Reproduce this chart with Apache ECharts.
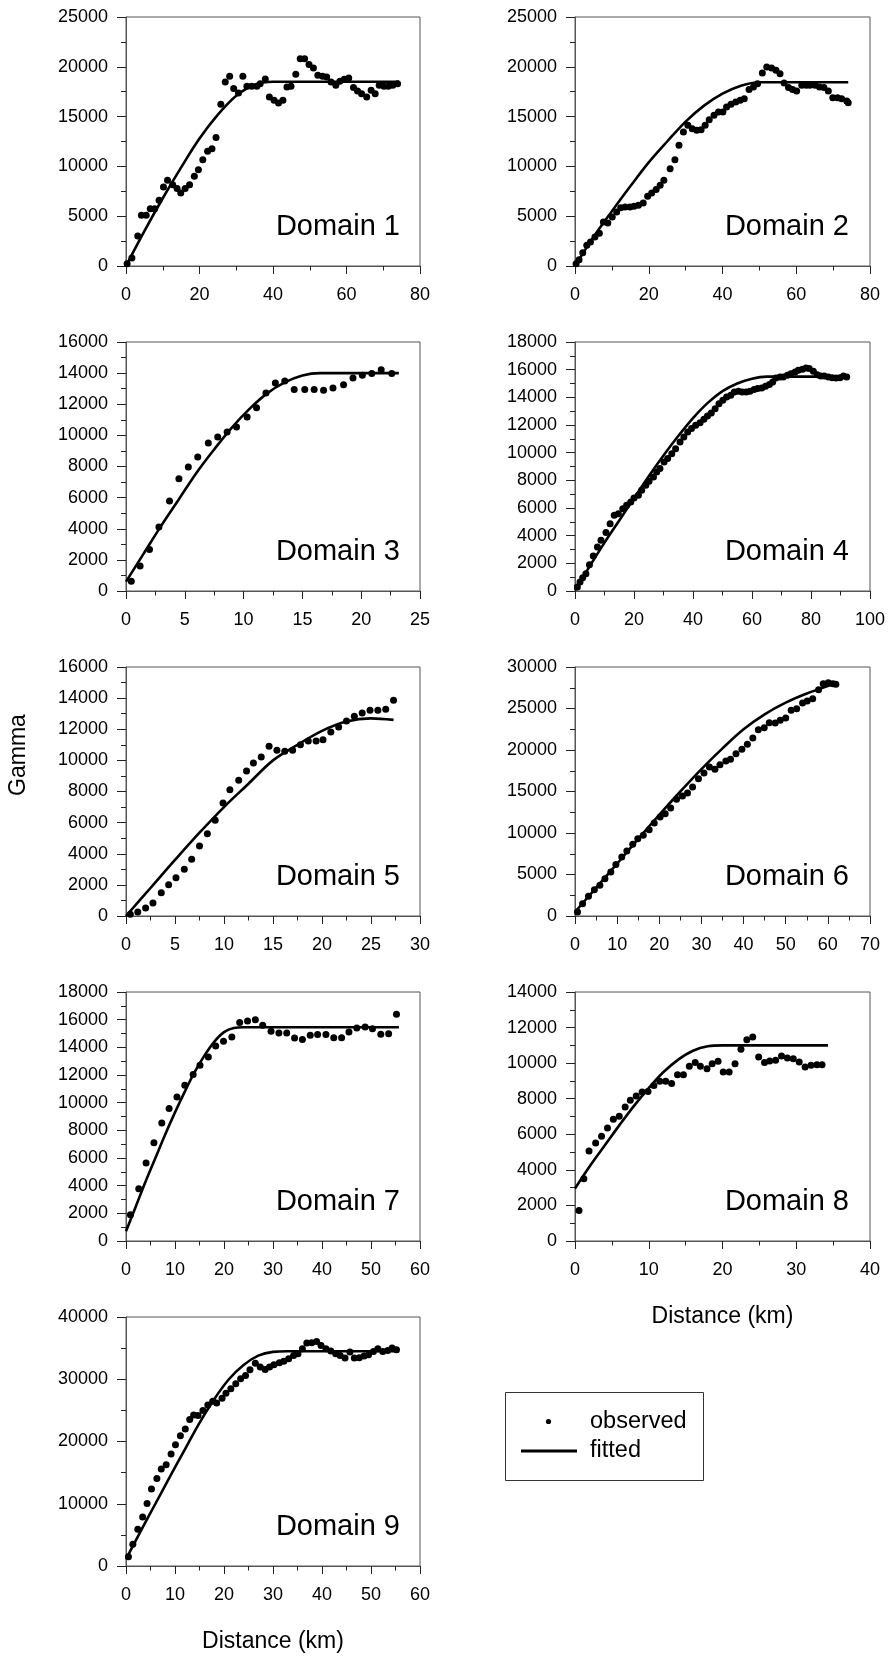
<!DOCTYPE html>
<html>
<head>
<meta charset="utf-8">
<title>Variograms by domain</title>
<script src="https://cdn.jsdelivr.net/npm/echarts@6/dist/echarts.min.js"></script>
<style>
html, body { margin: 0; padding: 0; background: #fff; }
#chart { width: 890px; height: 1656px; }
</style>
</head>
<body>
<div id="chart"></div>
<script>
// observed points, [distance km, gamma]
const obs1 = [[0.3,230],[1.6,800],[3.2,3000],[4.2,5090],[5.5,5090],[6.6,5750],[7.8,5750],[9.0,6600],[10.2,7930],[11.3,8600],[12.7,8170],[13.9,7770],[14.9,7330],[16.1,7770],[17.3,8170],[18.6,9000],[19.7,9670],[20.9,10680],[22.2,11510],[23.4,11780],[24.5,12890],[25.8,16230],[27.0,18480],[28.2,19040],[29.3,17810],[30.6,17370],[31.8,19040],[32.9,18040],[34.2,18040],[35.6,18040],[36.5,18310],[37.9,18780],[39.0,16970],[40.3,16630],[41.5,16370],[42.7,16630],[43.8,17970],[44.9,18040],[46.2,19240],[47.4,20820],[48.6,20820],[49.8,20220],[51.0,19880],[52.2,19140],[53.5,19040],[54.6,18980],[55.8,18480],[57.1,18140],[58.2,18540],[59.4,18740],[60.6,18880],[61.9,17910],[63.0,17570],[64.1,17300],[65.5,16970],[66.7,17640],[67.8,17300],[68.9,18140],[70.2,18040],[71.4,18040],[72.6,18140],[73.9,18310]];
const obs2 = [[0.3,230],[1.1,640],[2.1,1340],[3.2,2080],[4.2,2410],[5.4,2900],[6.6,3300],[7.7,4420],[8.9,4320],[10.1,4920],[11.3,5420],[12.4,5860],[13.6,5920],[14.9,5920],[16.0,5990],[17.2,6090],[18.5,6330],[19.7,7000],[20.8,7330],[22.0,7670],[23.1,8100],[24.1,8600],[25.8,9770],[27.1,10680],[28.2,12120],[29.4,13450],[30.6,14120],[31.8,13790],[33.0,13620],[34.2,13690],[35.3,14120],[36.4,14690],[37.7,15130],[38.9,15460],[40.1,15460],[41.1,15970],[42.3,16230],[43.6,16470],[44.8,16630],[45.9,16800],[47.2,17710],[48.4,17980],[49.5,18310],[50.8,19380],[52.0,19980],[53.3,19880],[54.5,19650],[55.6,19310],[56.7,18380],[57.9,17910],[59.0,17710],[60.1,17570],[61.5,18140],[62.7,18140],[63.7,18140],[65.1,18140],[66.3,17980],[67.5,17910],[68.7,17570],[69.9,16900],[71.2,16900],[72.3,16800],[73.7,16570],[74.1,16400]];
const obs3 = [[0.45,620],[1.2,1610],[2.0,2660],[2.8,4110],[3.7,5780],[4.5,7220],[5.3,7970],[6.1,8610],[7.0,9510],[7.8,9900],[8.6,10220],[9.4,10540],[10.3,11180],[11.1,11780],[11.9,12720],[12.7,13370],[13.5,13500],[14.3,12940],[15.2,12940],[16.0,12940],[16.8,12900],[17.6,13050],[18.5,13260],[19.3,13690],[20.1,13860],[20.9,13970],[21.7,14220],[22.6,13970]];
const obs4 = [[0.8,290],[1.7,650],[2.6,960],[3.7,1250],[4.9,1900],[6.2,2530],[7.6,3180],[8.8,3660],[10.5,4220],[11.9,4870],[13.3,5470],[14.7,5590],[16.2,5950],[17.5,6190],[18.9,6440],[20.0,6720],[21.5,6920],[22.6,7280],[24.0,7640],[25.1,7930],[26.6,8240],[27.7,8600],[28.8,8850],[30.2,9330],[31.4,9570],[32.8,9930],[34.1,10290],[35.6,10770],[36.9,11130],[38.2,11500],[39.5,11740],[40.9,11980],[42.4,12170],[43.7,12410],[44.9,12650],[46.2,12870],[47.5,13180],[48.8,13540],[50.1,13790],[51.4,14030],[52.8,14150],[54.0,14390],[55.4,14440],[56.7,14390],[58.0,14390],[59.3,14440],[60.7,14560],[61.9,14630],[63.3,14680],[64.6,14800],[65.9,14920],[67.0,15110],[68.1,15400],[69.5,15470],[70.6,15470],[72.0,15590],[73.2,15710],[74.6,15830],[75.7,15950],[77.1,16030],[78.3,16120],[79.4,16080],[80.8,15880],[82.1,15640],[83.3,15540],[84.5,15540],[85.9,15470],[87.2,15420],[88.5,15400],[89.8,15420],[91.0,15540],[92.1,15470]];
const obs5 = [[0.44,110],[1.2,260],[2.0,510],[2.75,840],[3.6,1500],[4.35,2010],[5.1,2460],[5.95,3000],[6.7,3640],[7.5,4500],[8.3,5290],[9.1,6150],[9.9,7260],[10.6,8120],[11.5,8720],[12.3,9320],[13.0,9830],[13.8,10220],[14.6,10900],[15.4,10650],[16.2,10580],[17.0,10650],[17.8,11010],[18.6,11250],[19.4,11250],[20.1,11330],[20.9,11820],[21.7,12150],[22.5,12530],[23.3,12830],[24.1,13050],[24.9,13220],[25.7,13220],[26.5,13280],[27.3,13860]];
const obs6 = [[0.6,480],[1.8,1490],[3.2,2370],[4.6,3170],[5.9,3700],[7.1,4500],[8.5,5300],[9.7,6190],[11.1,7110],[12.3,7830],[13.7,8630],[14.9,9320],[16.2,9720],[17.6,10400],[18.8,11200],[20.2,11930],[21.4,12330],[22.7,13010],[24.1,14060],[25.5,14460],[26.7,14820],[27.9,15540],[29.3,16550],[30.6,17230],[31.9,17950],[33.2,17670],[34.4,18230],[35.8,18680],[36.9,18880],[38.2,19560],[39.6,20080],[40.9,20680],[42.2,21450],[43.5,22450],[44.9,22690],[46.1,23290],[47.5,23250],[48.7,23570],[50.0,23860],[51.3,24780],[52.6,24980],[54.0,25660],[55.1,25900],[56.4,26180],[57.8,27270],[58.9,27990],[60.1,28110],[61.2,27990],[61.9,27910]];
const obs7 = [[0.9,1900],[2.6,3780],[4.1,5640],[5.7,7110],[7.3,8530],[8.8,9570],[10.4,10410],[12.0,11260],[13.7,12030],[15.1,12700],[16.8,13300],[18.3,14100],[19.9,14440],[21.6,14750],[23.2,15790],[24.8,15910],[26.4,16000],[27.9,15590],[29.6,15160],[31.2,15040],[32.8,15040],[34.4,14680],[36.0,14560],[37.6,14870],[39.1,14920],[40.8,14920],[42.4,14700],[44.0,14700],[45.5,15110],[47.1,15400],[48.8,15470],[50.3,15350],[52.0,14940],[53.6,14990],[55.2,16390]];
const obs8 = [[0.54,1720],[1.2,3500],[1.9,5060],[2.8,5510],[3.6,5890],[4.4,6350],[5.2,6840],[6.0,7010],[6.8,7530],[7.5,7910],[8.3,8150],[9.1,8380],[9.9,8410],[10.7,8750],[11.5,8980],[12.3,8980],[13.1,8850],[13.9,9350],[14.7,9350],[15.5,9820],[16.3,10030],[17.0,9820],[17.9,9690],[18.6,9970],[19.4,10100],[20.1,9500],[20.9,9500],[21.7,9970],[22.5,10780],[23.3,11320],[24.1,11470],[24.9,10350],[25.7,10030],[26.4,10120],[27.2,10160],[28.0,10400],[28.8,10290],[29.6,10250],[30.4,10060],[31.2,9780],[32.0,9880],[32.8,9910],[33.5,9910]];
const obs9 = [[0.5,1500],[1.4,3490],[2.4,5910],[3.4,7890],[4.3,10040],[5.2,12350],[6.3,14070],[7.2,15570],[8.2,16270],[9.2,17990],[10.1,19490],[11.1,20940],[12.1,22010],[13.0,23520],[13.8,24270],[14.7,24160],[15.7,24970],[16.7,25880],[17.7,26470],[18.5,26200],[19.6,26950],[20.4,27760],[21.4,28460],[22.4,29260],[23.4,30070],[24.4,30600],[25.3,31520],[26.4,32590],[27.4,31950],[28.4,31570],[29.3,31950],[30.2,32320],[31.3,32640],[32.2,32910],[33.2,33290],[34.2,33830],[35.1,34090],[36.0,34900],[36.9,35810],[37.9,35870],[38.9,36080],[39.8,35440],[40.8,34900],[41.8,34520],[42.8,34090],[43.7,33830],[44.7,33400],[45.7,34360],[46.6,33400],[47.6,33450],[48.6,33720],[49.5,33930],[50.5,34470],[51.4,34900],[52.4,34470],[53.4,34630],[54.3,35010],[55.2,34740]];

// fitted model curves
const fit1 = [[0,0],[5,3500],[10,6800],[15,9900],[20,12800],[25,15200],[30,17100],[35,18200],[40,18500],[45,18500],[74.3,18500]];
const fit2 = [[0,0],[5,2900],[10,5500],[15,8000],[20,10400],[25,12500],[30,14500],[35,16100],[40,17300],[45,18100],[50,18450],[55,18450],[74.1,18450]];
const fit3 = [[0,600],[1.5,2400],[3,4200],[4.5,5900],[6,7600],[7.5,9100],[9,10500],[10.5,11700],[12,12700],[13.5,13400],[15,13850],[16.5,14000],[18,14000],[23.2,14000]];
const fit4 = [[0,50],[5,1800],[10,3500],[15,5100],[20,6700],[25,8300],[30,9800],[35,11200],[40,12500],[45,13600],[50,14450],[55,15000],[60,15350],[65,15500],[70,15500],[92.1,15500]];
const fit5 = [[0,0],[2.5,1800],[5,3600],[7.5,5350],[10,7000],[12.5,8500],[15,10000],[17.5,11000],[20,11900],[22.5,12500],[25,12700],[27.3,12600]];
const fit6 = [[0,480],[5,3400],[10,6300],[15,9300],[20,12200],[25,15000],[30,17700],[35,20200],[40,22500],[45,24300],[50,25700],[55,26800],[60,27700],[62,28000]];
const fit7 = [[0,700],[2,2500],[4,4300],[6,6000],[8,7700],[10,9300],[12,10800],[14,12200],[16,13400],[18,14400],[20,15100],[22,15400],[24,15450],[30,15450],[55.7,15450]];
const fit8 = [[0,2950],[2,4200],[4,5350],[6,6500],[8,7600],[10,8600],[12,9500],[14,10200],[16,10700],[18,10950],[20,11000],[22,11000],[34.3,11000]];
const fit9 = [[0,1100],[3,5600],[6,10000],[9,14400],[12,18700],[15,23000],[18,26800],[21,30000],[24,32300],[27,33800],[30,34400],[33,34500],[55.7,34500]];

const domainNames = ['Domain 1', 'Domain 2', 'Domain 3', 'Domain 4', 'Domain 5', 'Domain 6', 'Domain 7', 'Domain 8', 'Domain 9'];
const xMax = [80, 80, 25, 100, 30, 70, 60, 40, 60];
const xStep = [20, 20, 5, 20, 5, 10, 10, 10, 10];
const yMax = [25000, 25000, 16000, 18000, 16000, 30000, 18000, 14000, 40000];
const yStep = [5000, 5000, 2000, 2000, 2000, 5000, 2000, 2000, 10000];

const observed = [obs1, obs2, obs3, obs4, obs5, obs6, obs7, obs8, obs9];
const fitted = [fit1, fit2, fit3, fit4, fit5, fit6, fit7, fit8, fit9];

const FONT = '"Liberation Sans", Arial, sans-serif';
const colLeft = [126, 575];
const colWidth = [294, 295];
const rowTop = 17, rowGap = 325, plotHeight = 249;

const chart = echarts.init(document.getElementById('chart'));

const grids = [], xAxes = [], yAxes = [], series = [], graphics = [];

domainNames.forEach((name, i) => {
    const col = i % 2;
    const row = Math.floor(i / 2);
    const left = colLeft[col];
    const top = rowTop + row * rowGap;

    grids.push({
        left: left, top: top, width: colWidth[col], height: plotHeight,
        show: true, borderColor: '#555', borderWidth: 1,
        backgroundColor: 'transparent',
        containLabel: false, outerBoundsMode: 'none'
    });

    // only the two bottom panels carry the distance title
    const bottomPanel = i >= 7;
    xAxes.push({
        type: 'value', gridIndex: i,
        min: 0, max: xMax[i], interval: xStep[i],
        name: bottomPanel ? 'Distance (km)' : '',
        nameLocation: 'middle', nameGap: 64,
        nameTextStyle: { fontFamily: FONT, fontSize: 23, color: '#000' },
        axisLine: { show: true, onZero: false, lineStyle: { color: '#555', width: 1 } },
        axisTick: { show: true, inside: false, length: 8, lineStyle: { color: '#222', width: 1 } },
        minorTick: { show: true, splitNumber: 2, length: 4.5, lineStyle: { color: '#222', width: 1 } },
        splitLine: { show: false },
        minorSplitLine: { show: false },
        axisLabel: {
            margin: 20, fontFamily: FONT, fontSize: 18, color: '#000',
            showMinLabel: true, showMaxLabel: true,
            formatter: v => String(v)
        }
    });
    yAxes.push({
        type: 'value', gridIndex: i,
        min: 0, max: yMax[i], interval: yStep[i],
        axisLine: { show: true, onZero: false, lineStyle: { color: '#555', width: 1 } },
        axisTick: { show: true, inside: false, length: 9, lineStyle: { color: '#222', width: 1 } },
        minorTick: { show: true, splitNumber: 2, length: 5, lineStyle: { color: '#222', width: 1 } },
        splitLine: { show: false },
        minorSplitLine: { show: false },
        axisLabel: {
            margin: 18, fontFamily: FONT, fontSize: 18, color: '#000',
            showMinLabel: true, showMaxLabel: true,
            formatter: v => String(v)
        }
    });

    series.push({
        name: 'observed', type: 'scatter',
        xAxisIndex: i, yAxisIndex: i,
        data: observed[i],
        symbol: 'circle', symbolSize: 7,
        itemStyle: { color: '#000', opacity: 1 },
        z: 2
    });
    series.push({
        name: 'fitted', type: 'line',
        xAxisIndex: i, yAxisIndex: i,
        data: fitted[i],
        showSymbol: false, symbol: 'none',
        smooth: 0.35,
        lineStyle: { color: '#000', width: 2.6 },
        z: 3
    });

    graphics.push({
        type: 'text',
        x: left + colWidth[col] - (col === 0 ? 20 : 21),
        y: top + plotHeight - 39,
        style: {
            text: name, align: 'right', verticalAlign: 'middle',
            fontFamily: FONT, fontSize: 29, fill: '#000'
        }
    });
});

// shared y title
graphics.push({
    type: 'text', x: 19, y: 755, rotation: Math.PI / 2,
    style: { text: 'Gamma', align: 'center', verticalAlign: 'middle', fontFamily: FONT, fontSize: 23, fill: '#000' }
});

// legend box, drawn by hand like the original
graphics.push({
    type: 'group',
    children: [
        { type: 'rect', shape: { x: 505.5, y: 1392.5, width: 198, height: 88 }, style: { fill: '#fff', stroke: '#333', lineWidth: 1 } },
        { type: 'circle', shape: { cx: 548.5, cy: 1421.5, r: 2.6 }, style: { fill: '#000' } },
        { type: 'line', shape: { x1: 521, y1: 1451, x2: 577, y2: 1451 }, style: { stroke: '#000', lineWidth: 3 } },
        { type: 'text', x: 590, y: 1421.5, style: { text: 'observed', align: 'left', verticalAlign: 'middle', fontFamily: FONT, fontSize: 23.5, fill: '#000' } },
        { type: 'text', x: 590, y: 1451, style: { text: 'fitted', align: 'left', verticalAlign: 'middle', fontFamily: FONT, fontSize: 23.5, fill: '#000' } }
    ]
});

chart.setOption({
    animation: false,
    backgroundColor: '#fff',
    grid: grids,
    xAxis: xAxes,
    yAxis: yAxes,
    series: series,
    graphic: graphics
});

window.addEventListener('resize', () => chart.resize());
</script>
</body>
</html>
